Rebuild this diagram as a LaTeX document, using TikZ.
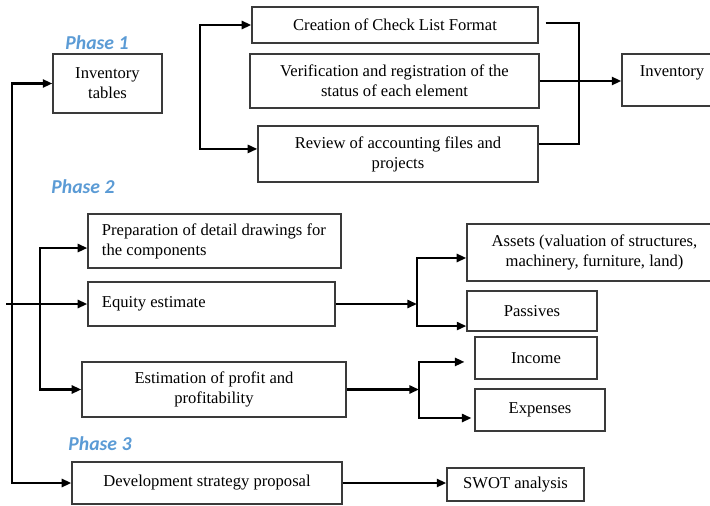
\documentclass[tikz,border=0pt]{standalone}
\usepackage{fontspec}
\setmainfont{Liberation Serif}
\newfontfamily\phasefont{Carlito}
\usetikzlibrary{arrows.meta}
\definecolor{PhaseBlue}{HTML}{5B9BD5}
\definecolor{BoxLine}{HTML}{3A3A3A}
\tikzset{
  every node/.style={font=\fontsize{11.8}{14.2}\selectfont},
  box/.style={draw=BoxLine, line width=0.9pt, inner sep=0pt, align=center},
  leftbox/.style={draw=BoxLine, line width=0.9pt, inner xsep=0.35cm, inner ysep=0pt, align=flush left},
  phase/.style={font=\phasefont\bfseries\itshape\fontsize{14}{16}\selectfont, text=PhaseBlue},
  link/.style={line width=1.7pt},
  flow/.style={-{Triangle[length=2.4mm,width=2mm]}, line width=1.7pt},
  biflow/.style={{Triangle[length=2.4mm,width=2mm]}-{Triangle[length=2.4mm,width=2mm]}, line width=1.7pt},
}
\begin{document}
\begin{tikzpicture}[x=0.025cm,y=-0.025cm]
  \useasboundingbox (0,0) rectangle (710,506);
  % phase 1
  \node[phase] (ph1) at (97,43) {Phase 1};
  \node[box, minimum width=2.725cm, minimum height=1.475cm] (tables) at (107.5,83.5) {Inventory\\tables};
  \node[box, minimum width=7.15cm, minimum height=0.9cm] (check) at (395,25) {Creation of Check List Format};
  \node[box, minimum width=7.225cm, minimum height=1.35cm] (verif) at (394.5,81) {Verification and registration of the\\status of each element};
  \node[box, minimum width=7.0cm, minimum height=1.4cm] (review) at (398,154) {Review of accounting files and\\projects};
  \node[box, minimum width=2.5cm, minimum height=1.3cm, text depth=0.45cm] (inv) at (672,80) {Inventory};
  % phase 2
  \node[phase] (ph2) at (83,187) {Phase 2};
  \node[leftbox, text width=5.625cm, minimum height=1.35cm] (prep) at (214.5,241) {Preparation of detail drawings for\\the components};
  \node[leftbox, text width=5.475cm, minimum height=1.1cm] (equity) at (211.5,304) {Equity estimate};
  \node[box, minimum width=6.6cm, minimum height=1.375cm] (estim) at (214,389.5) {Estimation of profit and\\profitability};
  \node[box, minimum width=6.375cm, minimum height=1.425cm] (assets) at (594.5,252.5) {Assets (valuation of structures,\\machinery, furniture, land)};
  \node[box, minimum width=3.25cm, minimum height=1.0cm] (passives) at (532,311) {Passives};
  \node[box, minimum width=3.05cm, minimum height=1.05cm] (income) at (536,358) {Income};
  \node[box, minimum width=3.25cm, minimum height=1.05cm] (expenses) at (540,410) {Expenses};
  % phase 3
  \node[phase] (ph3) at (100,444) {Phase 3};
  \node[box, minimum width=6.75cm, minimum height=1.05cm] (devel) at (207,483) {Development strategy proposal};
  \node[box, minimum width=3.425cm, minimum height=0.825cm] (swot) at (515.5,484.5) {SWOT analysis};

  \coordinate (spine) at (12,300);
  \coordinate (branch) at (40,300);
  \coordinate (entry) at (6,304);
  \coordinate (lb) at (200,80);
  \coordinate (rb) at (579,80);
  \coordinate (eqj) at (417,304);
  \coordinate (esj) at (419,389.5);

  \draw[biflow] (tables.west) -| (spine) |- (devel.west);
  \draw[biflow] ([yshift=-5pt]prep.west) -| (branch) |- (estim.west);
  \draw[flow] (entry) -- (equity.west);
  \draw[biflow] (check.west) -| (lb) |- ([yshift=3.6pt]review.west);
  \draw[link] ([xshift=5pt,yshift=1.4pt]check.east) -| (rb) |- ([yshift=7.1pt]review.east);
  \draw[flow] (verif.east) -- (verif.east -| inv.west);
  \draw[flow] (equity.east) -- (eqj);
  \draw[biflow] ([yshift=-3.9pt]assets.west) -| (eqj) |- ([yshift=-10.7pt]passives.west);
  \draw[flow] (estim.east) -- (esj);
  \draw[biflow] ([xshift=-7pt,yshift=-2.8pt]income.west) -| (esj) |- ([xshift=-2pt,yshift=-5.7pt]expenses.west);
  \draw[flow] (devel.east) -- (devel.east -| swot.west);
\end{tikzpicture}
\end{document}
